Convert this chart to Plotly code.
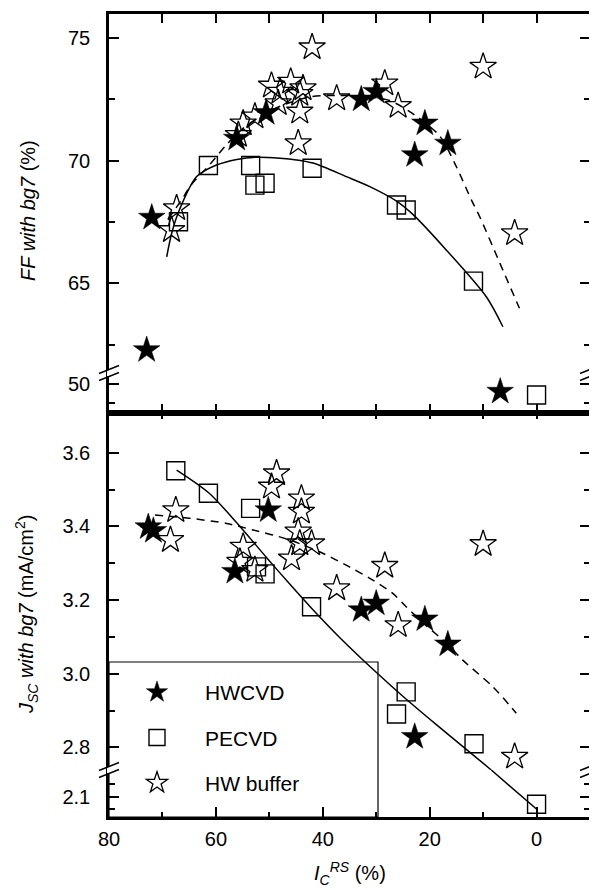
import plotly.graph_objects as go

# ---------------- data ----------------
X_RANGE = [80, -10]

# FF panel (%)
hw_ff_x = [72.0, 72.95, 56.1, 50.6, 32.8, 30.0, 20.9, 16.6, 22.8, 6.8]
hw_ff = [67.68, 62.28, 70.9, 71.95, 72.5, 72.81, 71.52, 70.7, 70.23, 49.6]
pe_ff_x = [67.0, 61.4, 53.5, 52.7, 50.8, 42.0, 26.2, 24.4, 11.8, 0.0]
pe_ff = [67.51, 69.8, 69.8, 69.0, 69.08, 69.69, 68.19, 67.99, 65.09, 49.42]
buf_ff_x = [67.35, 68.3, 55.8, 54.9, 52.7, 49.6, 48.0, 48.35, 46.0, 44.3, 43.7,
            44.3, 44.6, 42.0, 37.4, 28.4, 25.9, 10.0, 4.1]
buf_ff = [68.06, 67.17, 71.05, 71.52, 71.8, 73.06, 72.81, 72.34, 73.22, 72.72, 72.95,
          72.0, 70.71, 74.62, 72.54, 73.15, 72.23, 73.83, 67.04]

# fit curves, FF panel
pe_fit_ff_x = [69.2, 68.2, 66.7, 63.6, 59.9, 56.1, 52.4, 48.0, 44.9, 41.8, 35.6,
               31.2, 26.2, 23.1, 16.9, 9.4, 6.3]
pe_fit_ff = [66.08, 67.1, 68.06, 69.35, 69.82, 70.05, 70.14, 70.1, 70.03, 69.9, 69.35,
             68.94, 68.35, 67.8, 66.36, 64.45, 63.23]
buf_fit_ff_x = [69.0, 66.1, 64.9, 61.1, 58.0, 55.0, 51.0, 47.0, 42.4, 37.0, 32.0,
                27.5, 22.8, 18.1, 15.0, 12.2, 10.65, 7.0, 3.2]
buf_fit_ff = [67.6, 68.5, 68.94, 69.85, 70.65, 71.3, 71.9, 72.3, 72.6, 72.66, 72.62,
              72.45, 71.86, 71.0, 69.75, 68.4, 67.72, 65.89, 63.98]

# Jsc panel (mA/cm2)
hw_j_x = [72.65, 71.7, 50.2, 56.45, 32.8, 30.0, 20.9, 16.6, 22.8]
hw_j = [3.398, 3.388, 3.444, 3.277, 3.173, 3.191, 3.148, 3.08, 2.829]
pe_j_x = [67.5, 61.4, 53.5, 52.4, 50.8, 42.1, 24.4, 26.2, 11.7, 0.0]
pe_j = [3.551, 3.49, 3.449, 3.29, 3.271, 3.182, 2.951, 2.891, 2.81, 2.04]
buf_j_x = [67.5, 68.5, 48.65, 49.6, 44.0, 44.0, 44.6, 44.3, 42.1, 45.85, 54.9,
           55.5, 52.7, 28.4, 37.4, 25.9, 10.0, 4.1]
buf_j = [3.444, 3.363, 3.544, 3.508, 3.476, 3.44, 3.386, 3.354, 3.354, 3.313, 3.345,
         3.304, 3.282, 3.293, 3.232, 3.132, 3.352, 2.775]

pe_fit_j_x = [67.35, 61.4, 56.1, 50.5, 45.85, 42.1, 36.8, 29.7, 24.7, 18.75, 13.15, 8.47]
pe_fit_j = [3.553, 3.492, 3.41, 3.315, 3.238, 3.178, 3.098, 3.0, 2.935, 2.862, 2.795, 2.739]
pe_fit_j_low_x = [8.47, -0.2]
pe_fit_j_low = [2.310, 1.995]
buf_fit_j_x = [71.4, 64.9, 58.0, 53.0, 46.8, 40.6, 35.0, 31.2, 26.9, 24.4, 20.6,
               17.0, 13.8, 8.2, 3.8]
buf_fit_j = [3.431, 3.422, 3.408, 3.39, 3.366, 3.331, 3.29, 3.259, 3.218, 3.182, 3.13,
             3.085, 3.037, 2.965, 2.893]

# axis ticks
ff_ticks = [65, 70, 75]
ff_minor = [62.5, 67.5, 72.5]
ff_low_ticks = [50]
ff_low_minor = [49]
j_ticks = [2.8, 3.0, 3.2, 3.4, 3.6]
j_ticklabels = ["2.8", "3.0", "3.2", "3.4", "3.6"]
j_minor = [2.9, 3.1, 3.3, 3.5]
j_low_ticks = [2.1]
j_low_ticklabels = ["2.1"]
j_low_minor = [2.0, 2.2]
x_ticks = [80, 60, 40, 20, 0]

FF_BREAK = 55.0
J_BREAK = 2.5

# ---------------- layout geometry (page pixels) ----------------
PAGE_OFF = 8  # default body margin of the html page
W, H = 597 - PAGE_OFF, 890 - PAGE_OFF
L, R, T, B = 109, 590, 14, 817   # plot area in page pixels
PW, PH = R - L, B - T


def fy(py):
    return (B - py) / PH


def fx(px):
    return (px - L) / PW


Y_FF_BRK, Y_MID, Y_J_BRK = 373, 413, 770

FONT = "Liberation Sans, Arial, Helvetica, sans-serif"

fig = go.Figure()

star_f = dict(symbol="star", size=20, color="black", line=dict(color="black", width=0.5))
star_o = dict(symbol="star-open", size=20, color="black", line=dict(color="black", width=1.3))
sq_o = dict(symbol="square-open", size=18, color="black", line=dict(color="black", width=1.4))


def split(xs, ys, brk):
    up = [(a, b) for a, b in zip(xs, ys) if b >= brk]
    lo = [(a, b) for a, b in zip(xs, ys) if b < brk]
    return ([p[0] for p in up], [p[1] for p in up]), ([p[0] for p in lo], [p[1] for p in lo])


series = [
    ("HWCVD", star_f, hw_ff_x, hw_ff, hw_j_x, hw_j),
    ("PECVD", sq_o, pe_ff_x, pe_ff, pe_j_x, pe_j),
    ("HW buffer", star_o, buf_ff_x, buf_ff, buf_j_x, buf_j),
]

# fit lines first
line_solid = dict(color="black", width=1.5, shape="spline", smoothing=0.8)
line_dash = dict(color="black", width=1.5, dash="8px,6px", shape="spline", smoothing=0.8)
fig.add_trace(go.Scatter(x=pe_fit_ff_x, y=pe_fit_ff, mode="lines", line=line_solid,
                         xaxis="x", yaxis="y", showlegend=False, hoverinfo="skip"))
fig.add_trace(go.Scatter(x=buf_fit_ff_x, y=buf_fit_ff, mode="lines", line=line_dash,
                         xaxis="x", yaxis="y", showlegend=False, hoverinfo="skip"))
fig.add_trace(go.Scatter(x=pe_fit_j_x, y=pe_fit_j, mode="lines", line=line_solid,
                         xaxis="x3", yaxis="y3", showlegend=False, hoverinfo="skip"))
fig.add_trace(go.Scatter(x=pe_fit_j_low_x, y=pe_fit_j_low, mode="lines",
                         line=dict(color="black", width=1.5),
                         xaxis="x4", yaxis="y4", showlegend=False, hoverinfo="skip"))
fig.add_trace(go.Scatter(x=buf_fit_j_x, y=buf_fit_j, mode="lines", line=line_dash,
                         xaxis="x3", yaxis="y3", showlegend=False, hoverinfo="skip"))

for name, mk, fxs, fys, jxs, jys in series:
    (jux, juy), (jlx, jly) = split(jxs, jys, J_BREAK)
    (fux, fuy), (flx, fly) = split(fxs, fys, FF_BREAK)
    fig.add_trace(go.Scatter(x=jux, y=juy, mode="markers", marker=mk, name=name,
                             legendgroup=name, xaxis="x3", yaxis="y3", cliponaxis=False))
    fig.add_trace(go.Scatter(x=jlx, y=jly, mode="markers", marker=mk, name=name,
                             legendgroup=name, showlegend=False, xaxis="x4", yaxis="y4",
                             cliponaxis=False))
    fig.add_trace(go.Scatter(x=fux, y=fuy, mode="markers", marker=mk, name=name,
                             legendgroup=name, showlegend=False, xaxis="x", yaxis="y",
                             cliponaxis=False))
    fig.add_trace(go.Scatter(x=flx, y=fly, mode="markers", marker=mk, name=name,
                             legendgroup=name, showlegend=False, xaxis="x2", yaxis="y2",
                             cliponaxis=False))

axcommon = dict(showgrid=False, zeroline=False, showline=True, linecolor="black",
                linewidth=2.5, ticks="inside", tickcolor="black", tickwidth=2,
                automargin=False,
                tickfont=dict(family=FONT, size=20, color="black"))

xbase = dict(axcommon, range=X_RANGE, tickmode="linear", tick0=0, dtick=10,
             showticklabels=False, ticklen=9)

layout = dict(
    width=W, height=H, paper_bgcolor="white", plot_bgcolor="white",
    margin=dict(l=L - PAGE_OFF, r=597 - R, t=T - PAGE_OFF, b=890 - B, pad=0,
                autoexpand=False),
    showlegend=True,
    font=dict(family=FONT, size=20, color="black"),
    xaxis=dict(xbase, anchor="y", side="top"),
    xaxis2=dict(xbase, anchor="y2", side="bottom", matches="x"),
    xaxis3=dict(xbase, anchor="y3", side="top", matches="x", ticklen=6),
    xaxis4=dict(axcommon, anchor="y4", side="bottom", matches="x", range=X_RANGE,
                tickmode="array", tickvals=x_ticks, ticktext=[str(v) for v in x_ticks],
                ticklen=10, ticklabelstandoff=2,
                minor=dict(tickmode="linear", tick0=0, dtick=10, ticklen=5,
                           tickwidth=2, tickcolor="black", ticks="inside")),
    yaxis=dict(axcommon, anchor="x", domain=[fy(Y_FF_BRK), 1.0],
               range=[61.343, 75.978], tickmode="array", tickvals=ff_ticks,
               ticklen=10, mirror="ticks", ticklabelstandoff=12,
               minor=dict(tickmode="array", tickvals=ff_minor, ticklen=6, tickwidth=2,
                          tickcolor="black", ticks="inside")),
    yaxis2=dict(axcommon, anchor="x2", domain=[fy(Y_MID), fy(Y_FF_BRK)],
                range=[48.474, 50.579], tickmode="array", tickvals=ff_low_ticks,
                ticklen=10, mirror="ticks", ticklabelstandoff=12,
                minor=dict(tickmode="array", tickvals=ff_low_minor, ticklen=6, tickwidth=2,
                           tickcolor="black", ticks="inside")),
    yaxis3=dict(axcommon, anchor="x3", domain=[fy(Y_J_BRK), fy(Y_MID)],
                range=[2.7389, 3.7077], tickmode="array", tickvals=j_ticks,
                ticktext=j_ticklabels, ticklen=10, mirror="ticks", ticklabelstandoff=12,
                minor=dict(tickmode="array", tickvals=j_minor, ticklen=6, tickwidth=2,
                           tickcolor="black", ticks="inside")),
    yaxis4=dict(axcommon, anchor="x4", domain=[0.0, fy(Y_J_BRK)],
                range=[1.9402, 2.3102], tickmode="array", tickvals=j_low_ticks,
                ticktext=j_low_ticklabels, ticklen=10, mirror="ticks", ticklabelstandoff=12,
                minor=dict(tickmode="array", tickvals=j_low_minor, ticklen=6, tickwidth=2,
                           tickcolor="black", ticks="inside")),
    legend=dict(x=0.0, xanchor="left", y=fy(672), yanchor="top",
                bgcolor="rgba(0,0,0,0)", borderwidth=0, itemwidth=86,
                tracegroupgap=15, font=dict(family=FONT, size=21, color="black")),
)

shapes = []
# legend frame
shapes.append(dict(type="rect", xref="paper", yref="paper", x0=0, x1=fx(378),
                   y0=0, y1=fy(662), line=dict(color="black", width=1.2), layer="above"))
# axis break marks
for py in (Y_FF_BRK, Y_J_BRK):
    for px in (L, R):
        shapes.append(dict(type="rect", xref="paper", yref="paper",
                           x0=fx(px - 2), x1=fx(px + 2), y0=fy(py + 3), y1=fy(py - 3),
                           fillcolor="white", line=dict(width=0), layer="above"))
        for off in (-3.5, 3.5):
            shapes.append(dict(type="line", xref="paper", yref="paper",
                               x0=fx(px - 10), x1=fx(px + 10),
                               y0=fy(py + off + 4), y1=fy(py + off - 4),
                               line=dict(color="black", width=1.5), layer="above"))
layout["shapes"] = shapes

title_font = dict(family=FONT, size=20, color="black")
layout["annotations"] = [
    dict(text="<i>FF with bg7</i> (%)", xref="paper", yref="paper", x=fx(28), y=fy(211),
         xanchor="center", yanchor="middle", textangle=-90, showarrow=False,
         font=title_font),
    dict(text="<i>J</i><sub><i>SC</i></sub><i> with bg7</i> (mA/cm<sup>2</sup>)",
         xref="paper", yref="paper", x=fx(26), y=fy(615), xanchor="center",
         yanchor="middle", textangle=-90, showarrow=False, font=title_font),
    dict(text="<i>I</i><sub><i>C</i></sub><sup><i>RS</i></sup> (%)", xref="paper",
         yref="paper", x=fx(350), y=fy(873), xanchor="center", yanchor="middle",
         showarrow=False, font=title_font),
]

fig.update_layout(**layout)
fig.write_html("out.html")
